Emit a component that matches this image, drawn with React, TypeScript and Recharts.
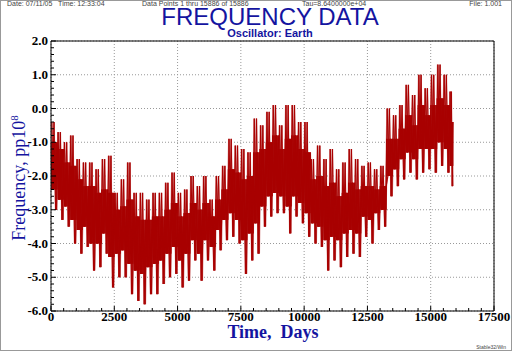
import React from 'react';
import { LineChart, Line, XAxis, YAxis, CartesianGrid } from 'recharts';

// 250-day bins, values (pp10^8)
const binStart = [
  0, 250, 500, 750, 1000, 1250, 1500, 1750, 2000, 2250, 2500, 2750, 3000, 3250, 3500, 3750,
  4000, 4250, 4500, 4750, 5000, 5250, 5500, 5750, 6000, 6250, 6500, 6750, 7000, 7250, 7500, 7750,
  8000, 8250, 8500, 8750, 9000, 9250, 9500, 9750, 10000, 10250, 10500, 10750, 11000, 11250, 11500, 11750,
  12000, 12250, 12500, 12750, 13000, 13250, 13500, 13750, 14000, 14250, 14500, 14750, 15000, 15250, 15500, 15750,
];
const peakHigh = [
  -0.4, -0.7, -1.0, -0.8, -1.5, -1.6, -1.6, -1.8, -1.5, -1.4, -2.5, -2.1, -1.6, -2.5, -2.5, -2.7,
  -2.5, -2.5, -2.2, -1.9, -2.5, -2.4, -2.0, -2.3, -2.0, -2.7, -2.0, -1.7, -0.9, -1.1, -1.2, -1.3,
  -0.3, -0.5, -0.1, 0.1, -0.5, 0.1, 0.1, -0.4, -0.4, -1.5, -1.1, -1.5, -1.2, -1.8, -1.6, -1.2,
  -1.5, -1.7, -1.6, -1.8, -1.7, 0.0, -0.2, 0.1, 0.7, 0.4, 1.0, 0.6, 1.0, 1.3, 1.0, 0.5,
];
const coreHigh = [
  -1.0, -1.2, -1.6, -1.7, -2.1, -2.3, -2.3, -2.5, -2.4, -2.5, -3.0, -2.9, -2.7, -3.2, -3.3, -3.3,
  -3.2, -3.2, -3.0, -2.8, -3.2, -3.1, -2.8, -3.0, -2.8, -3.2, -2.7, -2.4, -1.8, -1.9, -2.1, -2.0,
  -1.3, -1.2, -1.0, -0.8, -1.2, -0.9, -0.8, -1.2, -1.3, -2.1, -2.0, -2.3, -2.2, -2.6, -2.5, -2.2,
  -2.4, -2.3, -2.3, -2.4, -2.3, -0.9, -0.9, -0.6, -0.2, -0.5, 0.1, -0.2, 0.1, 0.3, 0.1, -0.4,
];
const coreLow = [
  -2.4, -2.7, -2.9, -3.3, -3.6, -3.5, -4.0, -4.0, -3.7, -4.4, -4.3, -4.2, -4.6, -4.8, -4.9, -4.7,
  -4.6, -4.5, -4.3, -4.1, -4.5, -4.3, -3.9, -4.3, -3.9, -4.1, -3.6, -3.3, -3.1, -3.3, -3.9, -3.7,
  -3.4, -2.9, -2.6, -2.5, -2.6, -2.9, -2.6, -2.8, -3.1, -3.4, -3.5, -3.9, -3.8, -3.9, -3.7, -3.6,
  -3.7, -3.2, -3.3, -3.1, -3.0, -2.0, -1.8, -1.5, -1.3, -1.5, -1.2, -1.2, -1.2, -1.0, -1.2, -1.7,
];
const peakLow = [
  -3.0, -3.3, -3.5, -4.0, -4.3, -4.1, -4.8, -4.7, -4.3, -5.3, -5.0, -5.0, -5.5, -5.7, -5.8, -5.5,
  -5.5, -5.2, -5.0, -4.9, -5.3, -5.1, -4.5, -5.1, -4.5, -4.8, -4.2, -3.9, -3.8, -4.0, -4.9, -4.5,
  -4.3, -3.5, -3.2, -3.1, -3.1, -3.7, -3.2, -3.4, -3.8, -4.0, -4.1, -4.8, -4.5, -4.7, -4.4, -4.3,
  -4.4, -3.8, -4.0, -3.6, -3.5, -2.6, -2.3, -2.1, -1.9, -2.1, -1.9, -1.8, -1.9, -1.7, -1.9, -2.3,
];
const lastDay = 15886;

const xMajor = [0, 2500, 5000, 7500, 10000, 12500, 15000, 17500];
const yMajor = [2, 1, 0, -1, -2, -3, -4, -5, -6];
const xTicks = Array.from({ length: 36 }, (_, i) => i * 500);
const yTicks = Array.from({ length: 41 }, (_, i) => (i * 2 - 60) / 10);

// zigzag through each bin, visiting the read levels in a given order
const buildPath = (order: number[][], shift: number) => {
  const pts: { t: number; v: number }[] = [];
  binStart.forEach((t, i) => {
    const w = Math.min(250, lastDay - t) / order.length;
    order.forEach((arr, k) => pts.push({ t: Math.min(lastDay, t + (k + shift) * w), v: arr[i] }));
  });
  return pts;
};
const passA = buildPath([peakHigh, coreLow, coreHigh, peakLow], 0.5);
const passB = buildPath([coreLow, peakHigh, peakLow, coreHigh], 0.9);
// dense core of the trace
const passC = buildPath(
  [coreHigh, coreLow, coreHigh, coreLow, coreHigh, coreLow, coreHigh, coreLow, coreHigh, coreLow],
  0.3,
);

const serif = '"Liberation Serif", "Times New Roman", serif';
const sans = '"Liberation Sans", Arial, sans-serif';
const blue = '#1414a0';
const red = '#a80000';
const pink = '#d58585';

const isMajorX = (v: number) => v % 2500 === 0;
const isMajorY = (v: number) => Math.abs(v - Math.round(v)) < 1e-6;

const BottomTick = ({ x, y, payload }: any) => {
  const major = isMajorX(payload.value);
  return (
    <g>
      <line x1={x} y1={y} x2={x} y2={y - (major ? 5 : 3)} stroke="#000" />
      {major && (
        <text x={x} y={y + 10} textAnchor="middle" fontFamily={serif} fontWeight="bold" fontSize={13} fill="#000">
          {payload.value}
        </text>
      )}
    </g>
  );
};

const TopTick = ({ x, y, payload }: any) => (
  <line x1={x} y1={y} x2={x} y2={y + (isMajorX(payload.value) ? 5 : 3)} stroke="#000" />
);

const LeftTick = ({ x, y, payload }: any) => {
  const major = isMajorY(payload.value);
  return (
    <g>
      <line x1={x} y1={y} x2={x + (major ? 5 : 3)} y2={y} stroke="#000" />
      {major && (
        <text x={x - 3} y={y + 4} textAnchor="end" fontFamily={serif} fontWeight="bold" fontSize={13} fill="#000">
          {payload.value.toFixed(1)}
        </text>
      )}
    </g>
  );
};

const RightTick = ({ x, y, payload }: any) => (
  <line x1={x} y1={y} x2={x - (isMajorY(payload.value) ? 5 : 3)} y2={y} stroke="#000" />
);

const small = { position: 'absolute' as const, top: 0, fontFamily: sans, fontSize: 7, color: '#444', whiteSpace: 'pre' as const, lineHeight: '8px' };

export default function App() {
  return (
    <div style={{ position: 'absolute', left: 0, top: 0, width: 512, height: 351, background: '#fff', overflow: 'hidden' }}>
      <LineChart width={512} height={351} margin={{ top: 0, right: 0, bottom: 0, left: 0 }}>
        <CartesianGrid
          stroke="#999"
          strokeDasharray="1 2"
          horizontalValues={yMajor}
          verticalValues={xMajor}
        />
        <XAxis
          dataKey="t"
          type="number"
          domain={[0, 17500]}
          ticks={xTicks}
          interval={0}
          height={40}
          tickLine={false}
          tickSize={0}
          tickMargin={0}
          tick={<BottomTick />}
          axisLine={{ stroke: '#000' }}
        />
        <XAxis
          xAxisId="top"
          orientation="top"
          type="number"
          domain={[0, 17500]}
          ticks={xTicks}
          interval={0}
          height={41}
          tickLine={false}
          tickSize={0}
          tickMargin={0}
          tick={<TopTick />}
          axisLine={{ stroke: '#000' }}
        />
        <YAxis
          type="number"
          domain={[-6, 2]}
          ticks={yTicks}
          interval={0}
          width={51}
          tickLine={false}
          tickSize={0}
          tickMargin={0}
          tick={<LeftTick />}
          axisLine={{ stroke: '#000' }}
        />
        <YAxis
          yAxisId="right"
          orientation="right"
          type="number"
          domain={[-6, 2]}
          ticks={yTicks}
          interval={0}
          width={18}
          tickLine={false}
          tickSize={0}
          tickMargin={0}
          tick={<RightTick />}
          axisLine={{ stroke: '#000' }}
        />
        <Line data={passB} dataKey="v" type="linear" stroke={pink} strokeWidth={1.5} dot={false} isAnimationActive={false} />
        <Line data={passA} dataKey="v" type="linear" stroke={pink} strokeWidth={2} dot={false} isAnimationActive={false} />
        <Line data={passC} dataKey="v" type="linear" stroke={red} strokeWidth={1} dot={false} isAnimationActive={false} />
        <Line data={passB} dataKey="v" type="linear" stroke={red} strokeWidth={1} dot={false} isAnimationActive={false} />
        <Line data={passA} dataKey="v" type="linear" stroke={red} strokeWidth={1} dot={false} isAnimationActive={false} />
      </LineChart>

      <div style={{ ...small, left: 7 }}>Date: 07/11/05   Time: 12:33:04</div>
      <div style={{ ...small, left: 142 }}>Data Points 1 thru 15886 of 15886</div>
      <div style={{ ...small, left: 302 }}>Tau=8.6400000e+04</div>
      <div style={{ ...small, right: 10 }}>File: 1.001</div>
      <div style={{ position: 'absolute', left: 150, width: 240, top: 8, textAlign: 'center', fontFamily: sans, fontSize: 24, color: blue, lineHeight: '18px' }}>
        FREQUENCY DATA
      </div>
      <div style={{ position: 'absolute', left: 200, width: 140, top: 28, textAlign: 'center', fontFamily: sans, fontWeight: 'bold', fontSize: 11, color: blue, lineHeight: '10px' }}>
        Oscillator: Earth
      </div>
      <div style={{ position: 'absolute', left: 173, width: 200, top: 321, textAlign: 'center', fontFamily: serif, fontWeight: 'bold', fontSize: 18, color: blue, lineHeight: '22px', whiteSpace: 'pre' }}>
        Time,  Days
      </div>
      <div
        style={{
          position: 'absolute',
          left: 16,
          top: 178,
          transform: 'translate(-50%, -50%) rotate(-90deg)',
          fontFamily: serif,
          fontSize: 18,
          color: blue,
          whiteSpace: 'nowrap',
          lineHeight: '20px',
        }}
      >
        Frequency, pp10<sup style={{ fontSize: 11 }}>8</sup>
      </div>
      <div style={{ position: 'absolute', right: 6, top: 344, fontFamily: sans, fontSize: 5, color: '#444' }}>
        Stable32/Win
      </div>
      <div style={{ position: 'absolute', inset: 0, border: '1px solid #999', pointerEvents: 'none' }} />
    </div>
  );
}
